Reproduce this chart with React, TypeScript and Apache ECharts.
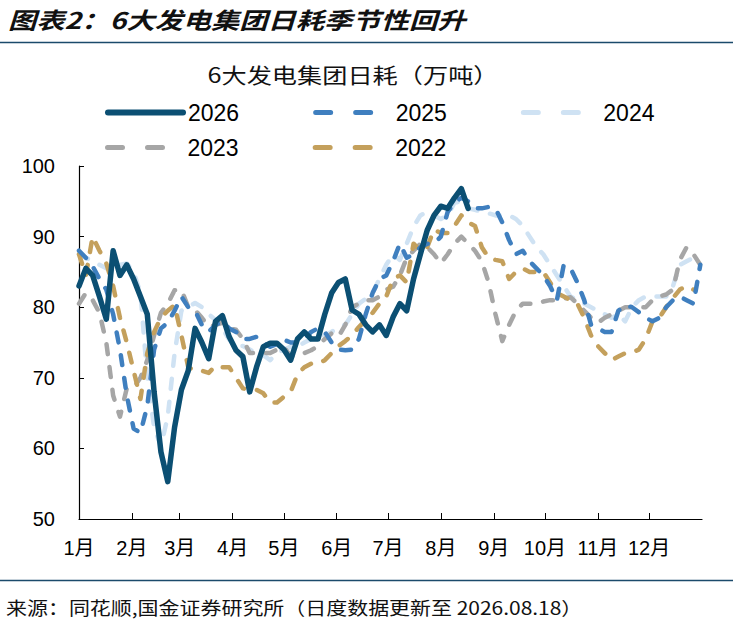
import React, { useEffect, useRef } from "react";
import * as echarts from "echarts";

// Day-of-year positions of the sampled readings (every 4 days)
const days = [
  0, 4, 8, 12, 16, 20, 24, 28, 32, 36, 40, 44, 48, 52, 56, 60, 64, 68, 72, 76,
  80, 84, 88, 92, 96, 100, 104, 108, 112, 116, 120, 124, 128, 132, 136, 140, 144, 148, 152, 156,
  160, 164, 168, 172, 176, 180, 184, 188, 192, 196, 200, 204, 208, 212, 216, 220, 224, 228, 232, 236,
  240, 244, 248, 252, 256, 260, 264, 268, 272, 276, 280, 284, 288, 292, 296, 300, 304, 308, 312, 316,
  320, 324, 328, 332, 336, 340, 344, 348, 352, 356, 360, 364,
];

const monthStarts = [0, 31, 59, 90, 120, 151, 181, 212, 243, 273, 304, 334];
const monthLabels = ["1月", "2月", "3月", "4月", "5月", "6月", "7月", "8月", "9月", "10月", "11月", "12月"];

const v2026 = [
  83, 85.5, 84.5, 81.5, 78.3, 88, 84.5, 86, 84, 81.5,
  79, 68, 59.5, 55.3, 63, 68.3, 71, 77, 75, 72.7,
  78, 78.8, 75.8, 73.9, 73, 68, 71.5, 74.4, 74.9, 74.9,
  74, 72.5, 75.5, 76.5, 75.5, 75.5, 79, 82, 83.5, 84,
  79.6, 79, 77.5, 76.5, 77.5, 76, 78.6, 80.5, 79.5, 84,
  87.5, 90.9, 93, 94.3, 94, 95.5, 96.8, 94,
];

const v2025 = [
  88, 87, 85.8, 84, 82.5, 79, 74, 67.5, 62.8, 62.2,
  66, 74, 77, 77.8, 79.5, 81.5, 80, 79.5, 77.5, 76.5,
  77.5, 78, 77, 76.5, 75.5, 75.5, 75.8, 74.9, 74.4, 74.8,
  75.4, 75, 75, 75.5, 76.5, 77, 76.5, 75, 74, 73.9,
  74, 75.5, 79, 82, 84, 84.5, 86.5, 89, 87, 87.5,
  88.5, 89, 89, 90, 93.5, 94.8, 95.5, 95, 94, 94,
  94.2, 94, 92, 89.5, 87.5, 88, 86.5, 85.5, 84.5, 83,
  81, 86, 85.5, 83.5, 81, 77.5, 77, 76.5, 76.5, 79.5,
  80.3, 80, 79.3, 78.5, 78, 78.5, 80, 81, 81.5, 81,
  80.5, 86,
];

const v2024 = [
  87.5, 87, 86.5, 86, 85.5, 85.5, 86, 86.2, 85, 82,
  70, 63, 60.3, 64.5, 73.5, 79.5, 80, 80.6, 80, 79,
  78.2, 77, 75.4, 74.5, 74.5, 74, 73.5, 73.2, 72.5, 73.5,
  74, 74.4, 74.4, 75, 75.5, 75.8, 76, 76.5, 77.2, 77.5,
  79, 80.5, 81.2, 82, 84, 86, 87.5, 86.7, 89, 91.4,
  93, 93.5, 93, 92.5, 93, 94.8, 95, 94, 93.8, 93.5,
  93.3, 93, 93, 93, 92.5, 91.5, 90, 88.5, 87.5, 86,
  84.5, 83, 81.5, 81, 80.5, 80, 79.5, 79, 78.5, 79,
  78, 80, 81, 81.5, 81.5, 81.5, 81.5, 83, 86, 86.5,
  87, 87.8,
];

const v2023 = [
  80.5, 82, 81, 79.2, 75, 67.5, 64.5, 68.5, 68.6, 70,
  72.5, 76, 79.2, 80.5, 82.4, 82.5, 80, 79.6, 78.5, 77.2,
  77.5, 77.8, 77, 76.8, 75.5, 73.5, 73.5, 73.5, 73.5, 74,
  74.4, 73, 73.2, 73.5, 73.9, 74.5, 75.5, 76.3, 75.8, 77.5,
  80, 80.5, 81, 81, 81.5, 82.5, 82.9, 84.5, 87, 88,
  89, 88.5, 87.5, 86.2, 87.5, 89, 90, 89, 88, 86.5,
  83.5, 79, 75.2, 77.5, 79.5, 80.5, 80.5, 80.5, 80.8, 81,
  81, 81.2, 81.4, 80.5, 79.5, 78.5, 77.8, 78.5, 79, 79.5,
  80, 80, 80, 80, 81, 81.5, 81.8, 82.5, 86.7, 88.5,
  87.5, 86,
];

const v2022 = [
  87.5, 84.5, 90, 88, 86.2, 83, 78.5, 75, 71, 67,
  73.5, 76.5, 78.5, 79.5, 80.3, 76, 71.5, 71, 71, 70.7,
  71.7, 71.5, 71.5, 70, 68.5, 68.3, 68.3, 67.8, 66.5, 66.5,
  67.3, 68, 70.5, 71.5, 72, 72, 72.5, 73.5, 74.5, 75.2,
  76, 77.2, 78.2, 79.2, 80.5, 81.5, 84, 84.5, 83.5, 89,
  88, 88.5, 91, 90.5, 90.5, 91.5, 93, 92, 91.5, 88.5,
  87, 86.7, 86.5, 84, 85, 85.5, 85, 85, 85, 83.5,
  82, 81.5, 81, 80.5, 78.5, 76, 74.5, 73.5, 72.5, 73,
  73.5, 73.6, 74, 75.5, 78, 78.5, 80, 81.3, 82.5, 83,
  82.5,
];

const C2026 = "#0B4F73";
const C2025 = "#3F7FBF";
const C2024 = "#CFE2F3";
const C2023 = "#A6A6A6";
const C2022 = "#C4A05C";
const NAVY = "#1B4A6B";

const LATIN = '"Liberation Sans", Arial, "Noto Sans CJK SC", sans-serif';

const DASH = [10, 13];

function pairs(values: number[]) {
  return values.map((v, i) => [days[i], v]);
}

function dashedSeries(name: string, color: string, values: number[], z: number) {
  return {
    name,
    type: "line",
    data: pairs(values),
    symbol: "none",
    smooth: false,
    z,
    lineStyle: { color, width: 4.5, type: DASH, cap: "round", join: "round" },
    itemStyle: { color },
    emphasis: { disabled: true },
  };
}

export default function App() {
  const ref = useRef<HTMLDivElement>(null);

  useEffect(() => {
    if (!ref.current) return;
    const chart = echarts.init(ref.current, null, { renderer: "svg" });
    const legendDash = { type: [15, 25], cap: "round", width: 5 };
    const hiddenMarker = { color: "rgba(0,0,0,0)", borderColor: "rgba(0,0,0,0)", borderWidth: 0, opacity: 0 };
    const legendCommon = {
      left: 105,
      padding: 0,
      itemWidth: 75,
      itemHeight: 14,
      itemGap: 74,
      selectedMode: false,
      itemStyle: hiddenMarker,
      textStyle: { fontSize: 23, color: "#000", fontFamily: LATIN },
    };
    const option: any = {
      animation: false,
      backgroundColor: "#ffffff",
      graphic: [
        {
          type: "text",
          x: 8,
          y: 19,
          scaleX: 1.23,
          style: {
            text: "图表2：6大发电集团日耗季节性回升",
            font: 'italic bold 23px "Noto Sans CJK SC", sans-serif',
            fill: "#111",
            align: "left",
            verticalAlign: "middle",
            textAlign: "left",
            textVerticalAlign: "middle",
          },
        },
        {
          type: "line",
          shape: { x1: 0, y1: 42.5, x2: 733, y2: 42.5 },
          style: { stroke: NAVY, lineWidth: 1.5 },
        },
        {
          type: "text",
          x: 353,
          y: 74,
          scaleX: 1.2,
          style: {
            text: "6大发电集团日耗（万吨）",
            font: '21px "Noto Sans CJK SC", sans-serif',
            fill: "#111",
            align: "center",
            verticalAlign: "middle",
            textAlign: "center",
            textVerticalAlign: "middle",
          },
        },
        {
          type: "line",
          shape: { x1: 0, y1: 580.5, x2: 733, y2: 580.5 },
          style: { stroke: NAVY, lineWidth: 1.5 },
        },
        {
          type: "text",
          x: 6,
          y: 607,
          scaleX: 1.165,
          style: {
            text: "来源：同花顺,国金证券研究所（日度数据更新至 2026.08.18）",
            font: '18px "Noto Sans CJK SC", sans-serif',
            fill: "#111",
            align: "left",
            verticalAlign: "middle",
            textAlign: "left",
            textVerticalAlign: "middle",
          },
        },
      ],
      legend: [
        {
          ...legendCommon,
          top: 101,
          data: [
            { name: "2026", lineStyle: { width: 6, cap: "round" }, itemStyle: hiddenMarker },
            { name: "2025", lineStyle: legendDash, itemStyle: hiddenMarker },
            { name: "2024", lineStyle: legendDash, itemStyle: hiddenMarker },
          ],
        },
        {
          ...legendCommon,
          top: 136,
          data: [
            { name: "2023", lineStyle: legendDash, itemStyle: hiddenMarker },
            { name: "2022", lineStyle: legendDash, itemStyle: hiddenMarker },
          ],
        },
      ],
      grid: { left: 79, right: 31, top: 166, bottom: 101, containLabel: false },
      xAxis: {
        type: "value",
        min: 0,
        max: 365,
        axisLine: { show: true, onZero: false, lineStyle: { color: "#000", width: 1.2 } },
        axisTick: {
          show: true,
          inside: true,
          length: 6,
          customValues: monthStarts.slice(1),
          lineStyle: { color: "#000", width: 1 },
        },
        axisLabel: {
          customValues: monthStarts,
          margin: 19,
          fontSize: 20,
          color: "#000",
          fontFamily: LATIN,
          formatter: (v: number) => {
            const i = monthStarts.indexOf(Math.round(v));
            return i >= 0 ? monthLabels[i] : "";
          },
        },
        splitLine: { show: false },
      },
      yAxis: {
        type: "value",
        min: 50,
        max: 100,
        interval: 10,
        axisLine: { show: true, lineStyle: { color: "#000", width: 1.2 } },
        axisTick: { show: true, inside: true, length: 5, lineStyle: { color: "#000" } },
        axisLabel: { margin: 24, fontSize: 20, color: "#000", fontFamily: LATIN },
        splitLine: { show: false },
      },
      series: [
        dashedSeries("2024", C2024, v2024, 2),
        dashedSeries("2023", C2023, v2023, 3),
        dashedSeries("2022", C2022, v2022, 4),
        dashedSeries("2025", C2025, v2025, 5),
        {
          name: "2026",
          type: "line",
          data: pairs(v2026),
          symbol: "none",
          z: 6,
          lineStyle: { color: C2026, width: 5.5, cap: "round", join: "round" },
          itemStyle: { color: C2026 },
          emphasis: { disabled: true },
        },
      ],
    };
    chart.setOption(option);
    return () => chart.dispose();
  }, []);

  return (
    <div
      ref={ref}
      style={{ position: "fixed", left: 0, top: 0, width: 733, height: 620, background: "#fff" }}
    />
  );
}
